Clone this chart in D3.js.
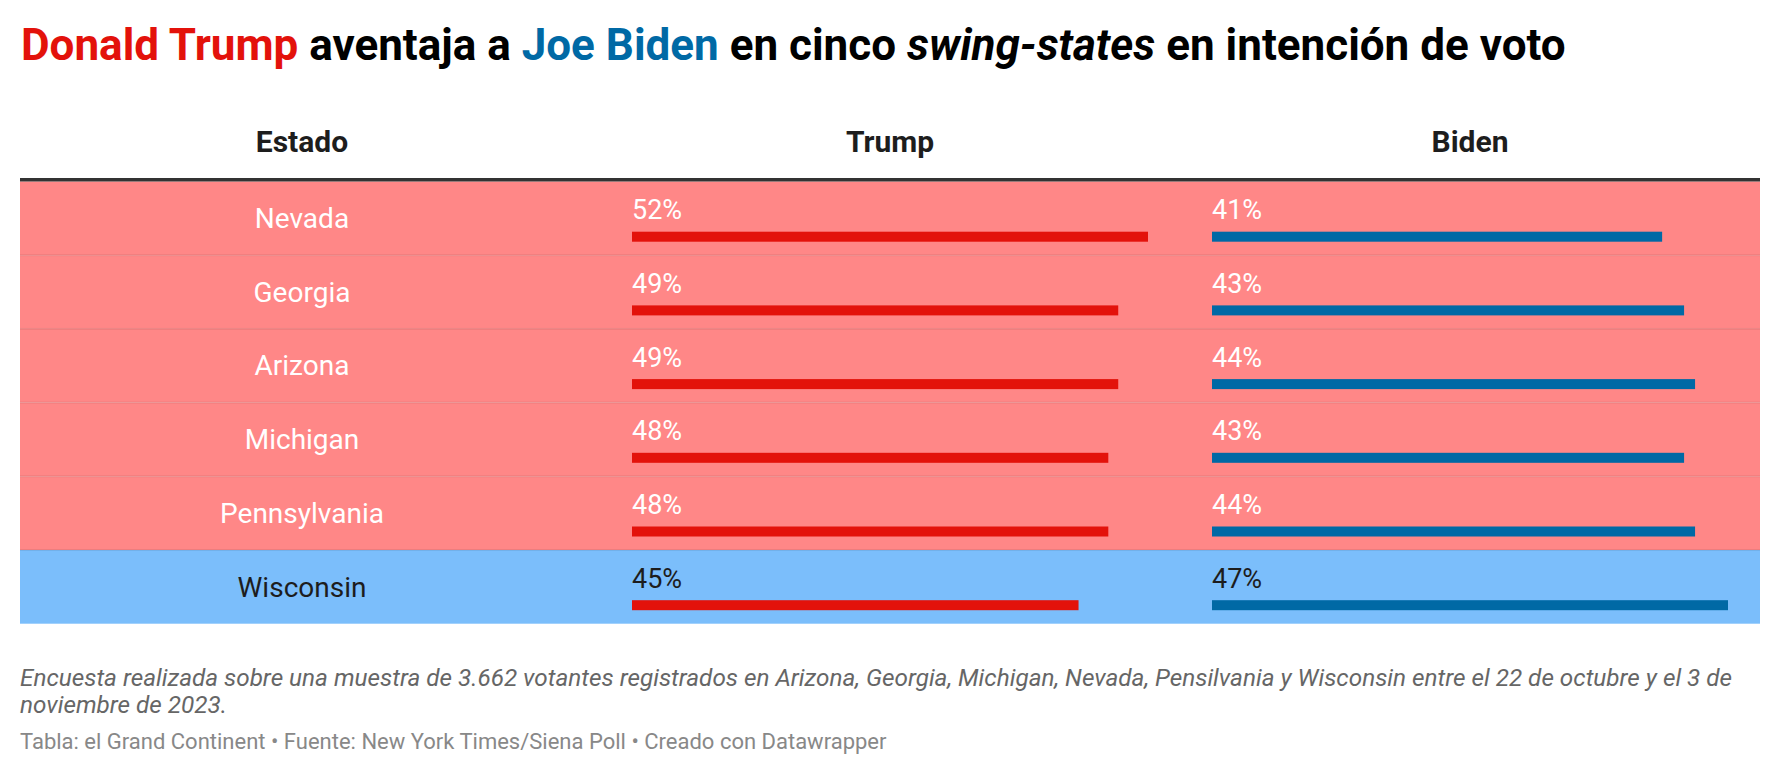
<!DOCTYPE html>
<html>
<head>
<meta charset="utf-8">
<script src="https://cdn.jsdelivr.net/npm/d3@7"></script>
<style>
  html, body { margin: 0; padding: 0; background: #fff; }
  svg { display: block; font-family: Roboto, "Noto Sans", sans-serif; }
</style>
</head>
<body>
<svg id="chart" width="1780" height="776"></svg>
<script>
// ---- Data ----
const states = ["Nevada", "Georgia", "Arizona", "Michigan", "Pennsylvania", "Wisconsin"];
const trump = [52, 49, 49, 48, 48, 45];
const biden = [41, 43, 44, 43, 44, 47];
const columns = ["Estado", "Trump", "Biden"];
const noteLines = [
  "Encuesta realizada sobre una muestra de 3.662 votantes registrados en Arizona, Georgia, Michigan, Nevada, Pensilvania y Wisconsin entre el 22 de octubre y el 3 de",
  "noviembre de 2023."
];
const sourceText = "Tabla: el Grand Continent • Fuente: New York Times/Siena Poll • Creado con Datawrapper";

// ---- Styles / layout ----
const RED = "#e3120b", BLUE = "#0069a5";
const RED_BG = "#ff8787", BLUE_BG = "#7bbefb";
const tableLeft = 20, tableRight = 1760;
const rowTop = 181.5, rowH = 73.7;
const barW = 516, barH = 10;
const colCenters = [302, 890, 1470];
const barStarts = [632, 1212];

const svg = d3.select("#chart");

// Title
const title = svg.append("text")
  .attr("x", 21).attr("y", 60)
  .attr("font-size", 44).attr("font-weight", 700).attr("fill", "#000");
[
  ["Donald Trump", RED, "normal"],
  [" aventaja a ", "#000", "normal"],
  ["Joe Biden", BLUE, "normal"],
  [" en cinco ", "#000", "normal"],
  ["swing-states", "#000", "italic"],
  [" en intención de voto", "#000", "normal"]
].forEach(([t, c, s]) => {
  title.append("tspan").text(t).attr("fill", c).attr("font-style", s)
    .style("white-space", "pre");
});

// Header
svg.selectAll("text.hdr").data(columns).join("text")
  .attr("class", "hdr")
  .attr("x", (d, i) => colCenters[i]).attr("y", 152)
  .attr("text-anchor", "middle")
  .attr("font-size", 30).attr("font-weight", 700).attr("fill", "#1d1d1d")
  .text(d => d);

// Scales
const y = d3.scaleBand().domain(states).range([rowTop, rowTop + rowH * states.length]).padding(0);
const xT = d3.scaleLinear().domain([0, d3.max(trump)]).range([0, barW]);
const xB = d3.scaleLinear().domain([0, d3.max(biden)]).range([0, barW]);

const rows = states.map((s, i) => ({ s, t: trump[i], b: biden[i], i }));
const bg = d => d.t > d.b ? RED_BG : BLUE_BG;
const fg = d => d.t > d.b ? "#fff" : "#1d1d1d";

const g = svg.selectAll("g.row").data(rows).join("g").attr("class", "row");

g.append("rect")
  .attr("x", tableLeft).attr("y", d => y(d.s))
  .attr("width", tableRight - tableLeft).attr("height", y.bandwidth())
  .attr("fill", bg);

g.filter(d => d.i > 0).append("rect")
  .attr("x", tableLeft).attr("y", d => y(d.s) - 1)
  .attr("width", tableRight - tableLeft).attr("height", 2)
  .attr("fill", "#000").attr("opacity", 0.07);

g.append("text")
  .attr("x", colCenters[0]).attr("y", d => y(d.s) + 46.5)
  .attr("text-anchor", "middle").attr("font-size", 28).attr("fill", fg)
  .text(d => d.s);

// Trump
g.append("text")
  .attr("x", barStarts[0]).attr("y", d => y(d.s) + 37.8)
  .attr("font-size", 27).attr("fill", fg)
  .text(d => d.t + "%");
g.append("rect")
  .attr("x", barStarts[0]).attr("y", d => y(d.s) + 50.2)
  .attr("width", d => xT(d.t)).attr("height", barH).attr("fill", RED);

// Biden
g.append("text")
  .attr("x", barStarts[1]).attr("y", d => y(d.s) + 37.8)
  .attr("font-size", 27).attr("fill", fg)
  .text(d => d.b + "%");
g.append("rect")
  .attr("x", barStarts[1]).attr("y", d => y(d.s) + 50.2)
  .attr("width", d => xB(d.b)).attr("height", barH).attr("fill", BLUE);

// Header border
svg.append("rect")
  .attr("x", tableLeft).attr("y", 178)
  .attr("width", tableRight - tableLeft).attr("height", 3.5)
  .attr("fill", "#333");

// Notes
svg.selectAll("text.note").data(noteLines).join("text")
  .attr("class", "note")
  .attr("x", 20).attr("y", (d, i) => 686 + i * 27)
  .attr("font-size", 24.3).attr("font-style", "italic").attr("fill", "#666")
  .text(d => d);

svg.append("text")
  .attr("x", 20).attr("y", 749)
  .attr("font-size", 22).attr("fill", "#888")
  .text(sourceText);
</script>
</body>
</html>
